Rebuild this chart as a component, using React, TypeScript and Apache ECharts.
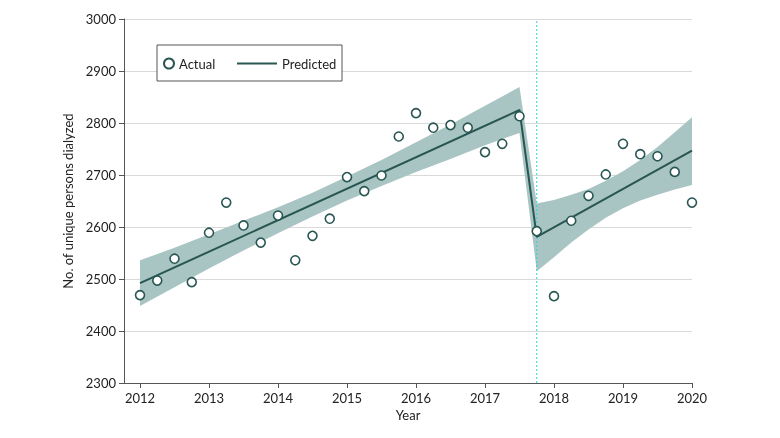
import React, { useEffect, useRef } from "react";
import * as echarts from "echarts";

// Quarterly time points (years)
const quarters = [
  2012.0, 2012.25, 2012.5, 2012.75, 2013.0, 2013.25, 2013.5, 2013.75,
  2014.0, 2014.25, 2014.5, 2014.75, 2015.0, 2015.25, 2015.5, 2015.75,
  2016.0, 2016.25, 2016.5, 2016.75, 2017.0, 2017.25, 2017.5, 2017.75,
  2018.0, 2018.25, 2018.5, 2018.75, 2019.0, 2019.25, 2019.5, 2019.75, 2020.0,
];
// Actual number of unique persons dialyzed
const actual = [
  2469, 2497, 2539, 2494, 2589, 2647, 2603, 2570,
  2622, 2536, 2583, 2616, 2696, 2669, 2699, 2774,
  2819, 2791, 2796, 2791, 2744, 2760, 2813, 2592,
  2467, 2612, 2660, 2701, 2760, 2740, 2736, 2706, 2647,
];
// Predicted (segmented regression) line vertices
const predYears = [2012.0, 2017.5, 2017.75, 2020.0];
const predValues = [2492, 2825, 2581, 2747];

// Confidence band edges
const bandYears = [
  2012.0, 2012.5, 2013.0, 2013.5, 2014.0, 2014.5, 2015.0, 2015.5, 2016.0, 2016.5, 2017.0, 2017.5,
  2017.75, 2018.0, 2018.25, 2018.5, 2018.75, 2019.0, 2019.25, 2019.5, 2019.75, 2020.0,
];
const bandUpper = [
  2536, 2560, 2586, 2612, 2638, 2666, 2697, 2729, 2763, 2797, 2833, 2869,
  2645, 2652, 2662, 2673, 2689, 2707, 2729, 2754, 2782, 2811,
];
const bandLower = [
  2448, 2484, 2520, 2555, 2588, 2620, 2651, 2679, 2706, 2731, 2757, 2781,
  2515, 2542, 2570, 2595, 2618, 2636, 2651, 2662, 2672, 2681,
];

const xTicks = [2012, 2013, 2014, 2015, 2016, 2017, 2018, 2019, 2020];
const interventionYear = 2017.75;
const yRange = [2300, 3000];

const FONT = "Lato, 'Noto Sans', sans-serif";
const DARK = "#285652";
const BAND = "#a9c5c3";
const CYAN = "#2fd0e0";

export default function App() {
  const ref = useRef<HTMLDivElement>(null);

  useEffect(() => {
    if (!ref.current) return;
    const chart = echarts.init(ref.current, null, { renderer: "svg" });

    const scatterData = quarters.map((t, i) => [t, actual[i]]);
    const predData = predYears.map((t, i) => [t, predValues[i]]);
    const vData = yRange.map((v) => [interventionYear, v]);

    const option: any = {
      animation: false,
      textStyle: { fontFamily: FONT },
      grid: { left: 124, right: 88, top: 19, bottom: 55 },
      xAxis: {
        type: "value",
        min: 2011.768,
        max: 2020,
        name: "Year",
        nameLocation: "middle",
        nameGap: 22,
        nameTextStyle: { fontSize: 13, color: "#222", fontFamily: FONT },
        axisLine: { show: true, lineStyle: { color: "#555", width: 1 } },
        axisTick: { show: true, length: 5, customValues: xTicks, lineStyle: { color: "#555" } },
        axisLabel: {
          customValues: xTicks,
          fontSize: 13,
          color: "#222",
          margin: 8,
          fontFamily: FONT,
          formatter: (v: number) => String(Math.round(v)),
        },
        splitLine: { show: false },
      },
      yAxis: {
        type: "value",
        min: yRange[0],
        max: yRange[1],
        interval: 100,
        name: "No. of unique persons dialyzed",
        nameLocation: "middle",
        nameGap: 43,
        nameTextStyle: { fontSize: 13, color: "#222", fontFamily: FONT },
        axisLine: { show: true, lineStyle: { color: "#555", width: 1 } },
        axisTick: { show: true, length: 5, lineStyle: { color: "#555" } },
        axisLabel: {
          fontSize: 13,
          color: "#222",
          margin: 8,
          fontFamily: FONT,
          formatter: (v: number) => String(v),
        },
        splitLine: { show: true, lineStyle: { color: "#d9d9d9", width: 1 } },
      },
      legend: [
        {
          data: ["Actual"],
          left: 163,
          top: 57,
          padding: 0,
          itemWidth: 10,
          itemHeight: 10,
          textStyle: { fontSize: 13, color: "#222", fontFamily: FONT },
        },
        {
          data: [
            {
              name: "Predicted",
              icon: "path://M0 0H40V2H0Z",
              itemStyle: { color: DARK, borderWidth: 0 },
            },
          ],
          left: 237,
          top: 57,
          padding: 0,
          itemWidth: 40,
          itemHeight: 2,
          textStyle: { fontSize: 13, color: "#222", fontFamily: FONT },
        },
      ],
      graphic: [
        {
          type: "rect",
          z: 3,
          shape: { x: 157, y: 45, width: 185, height: 36 },
          style: { fill: "#fff", stroke: "#555", lineWidth: 1 },
        },
      ],
      series: [
        {
          type: "custom",
          name: "band",
          silent: true,
          z: 1,
          data: [[bandYears[0], bandLower[0]]],
          renderItem: (params: any, api: any) => {
            const up = bandYears.map((t, i) => api.coord([t, bandUpper[i]]));
            const lo = bandYears.map((t, i) => api.coord([t, bandLower[i]])).reverse();
            return {
              type: "polygon",
              shape: { points: up.concat(lo) },
              style: { fill: BAND, stroke: "none" },
            };
          },
        },
        {
          type: "line",
          name: "intervention",
          data: vData,
          symbol: "none",
          silent: true,
          z: 1.5,
          lineStyle: { color: CYAN, type: [2, 2], width: 1 },
          itemStyle: { color: CYAN },
        },
        {
          type: "line",
          name: "Predicted",
          data: predData,
          symbol: "none",
          showSymbol: false,
          z: 2,
          lineStyle: { color: DARK, width: 2 },
          itemStyle: { color: DARK },
        },
        {
          type: "scatter",
          name: "Actual",
          data: scatterData,
          symbol: "circle",
          symbolSize: 9,
          z: 4,
          itemStyle: { color: "#ffffff", borderColor: DARK, borderWidth: 1.6, opacity: 1 },
        },
      ],
    };

    chart.setOption(option);
    return () => chart.dispose();
  }, []);

  return (
    <div
      ref={ref}
      style={{ position: "fixed", left: 0, top: 0, width: 780, height: 438 }}
    />
  );
}
